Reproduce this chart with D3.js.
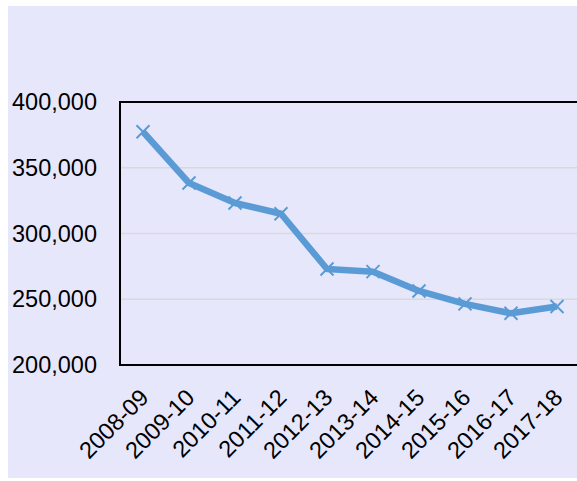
<!DOCTYPE html>
<html>
<head>
<meta charset="utf-8">
<script src="https://cdn.jsdelivr.net/npm/d3@7"></script>
<style>
  html, body { margin: 0; padding: 0; background: #ffffff; }
  svg { display: block; }
</style>
</head>
<body>
<div id="chart"></div>
<script>
// -------------------- DATA --------------------
const years = ["2008-09", "2009-10", "2010-11", "2011-12", "2012-13",
               "2013-14", "2014-15", "2015-16", "2016-17", "2017-18"];
const counts = [377400, 338400, 323200, 315000, 273000,
                271000, 256300, 246500, 239300, 244500];
const yTicks = [200000, 250000, 300000, 350000, 400000];

// -------------------- CHART --------------------
function drawChart(width, height) {
    let fontFamily = "Liberation Sans, Arial, sans-serif";
    let fontSize = 23.5;
    let margin = ({ top: 102, right: -3, bottom: 116, left: 120 });
    let lineColor = "#5b9bd5";

    const svg = d3.select("#chart")
        .append("svg")
        .attr("width", width)
        .attr("height", height);

    // lavender card behind everything
    svg.append("rect")
        .attr("x", 8).attr("y", 6)
        .attr("width", width - 8).attr("height", height - 9)
        .attr("fill", "#e7e7fc");

    let x = d3.scaleBand()
        .domain(years)
        .range([margin.left, width - margin.right]);
    let y = d3.scaleLinear()
        .domain([200000, 400000])
        .range([height - margin.bottom, margin.top]);

    // gridlines
    svg.append("g")
        .selectAll("line")
        .data(yTicks.slice(1, -1))
        .join("line")
        .attr("x1", margin.left).attr("x2", width - margin.right)
        .attr("y1", d => y(d)).attr("y2", d => y(d))
        .attr("stroke", "#d9d9d9")
        .attr("stroke-width", 1.5);

    // y axis labels
    let yAxis = g => g
        .attr("transform", `translate(${margin.left},0)`)
        .call(d3.axisLeft(y).tickValues(yTicks).tickFormat(d3.format(",")).tickSize(0).tickPadding(23))
        .call(g => g.select(".domain").remove())
        .call(g => g.selectAll("text")
            .attr("font-family", fontFamily)
            .attr("font-size", fontSize)
            .attr("fill", "#000"));
    svg.append("g").call(yAxis);

    // x axis labels, rotated
    let xAxis = g => g
        .attr("transform", `translate(0,${height - margin.bottom})`)
        .call(d3.axisBottom(x).tickSize(0))
        .call(g => g.select(".domain").remove())
        .call(g => g.selectAll("text")
            .attr("font-family", fontFamily)
            .attr("font-size", fontSize)
            .attr("fill", "#000")
            .attr("text-anchor", "end")
            .attr("dy", null)
            .attr("y", 0)
            .attr("transform", "translate(7,34) rotate(-45)"));
    svg.append("g").call(xAxis);

    // plot frame: left, top, bottom
    svg.append("path")
        .attr("d", `M${width + 5},${margin.top}H${margin.left}V${height - margin.bottom}H${width + 5}`)
        .attr("fill", "none")
        .attr("stroke", "#000")
        .attr("stroke-width", 2);

    let cx = d => x(d) + x.bandwidth() / 2;

    // the line
    let line = d3.line()
        .x((d, i) => cx(years[i]))
        .y(d => y(d));
    svg.append("path")
        .datum(counts)
        .attr("d", line)
        .attr("fill", "none")
        .attr("stroke", lineColor)
        .attr("stroke-width", 6.5)
        .attr("stroke-linejoin", "round");

    // x markers
    let s = 6.5;
    svg.append("g")
        .selectAll("path")
        .data(counts)
        .join("path")
        .attr("transform", (d, i) => `translate(${cx(years[i])},${y(d)})`)
        .attr("d", `M${-s},${-s}L${s},${s}M${-s},${s}L${s},${-s}`)
        .attr("stroke", lineColor)
        .attr("stroke-width", 2);
}

drawChart(577, 481);
</script>
</body>
</html>
